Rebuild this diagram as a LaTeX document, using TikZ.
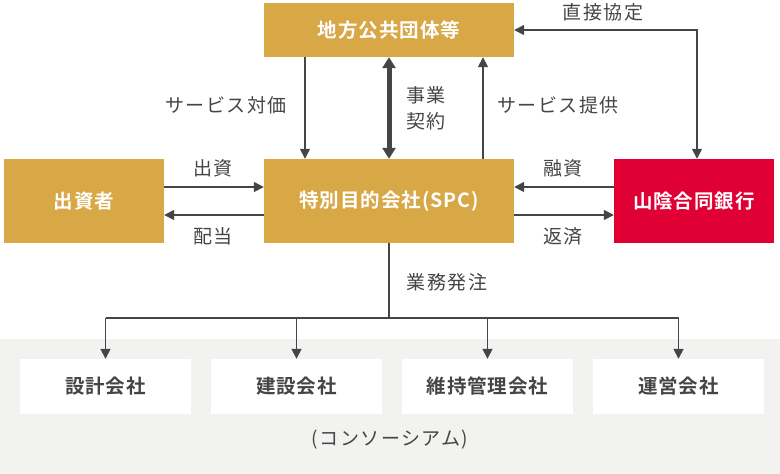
\documentclass[tikz,border=0pt]{standalone}
\usepackage{fontspec}
\setmainfont{Noto Sans CJK JP}[BoldFont={Noto Sans CJK JP Bold}]
\newfontfamily\labfont{Noto Sans CJK JP}[LetterSpace=8]
\newfontfamily\boxfont{Noto Sans CJK JP Bold}[LetterSpace=5]
\usetikzlibrary{arrows.meta}
\definecolor{gold}{HTML}{D8A746}
\definecolor{bankred}{HTML}{E00034}
\definecolor{linegray}{HTML}{454545}
\definecolor{bggray}{HTML}{F2F2F0}
\tikzset{
  box/.style={fill=gold, text=white, inner sep=0pt, font=\boxfont\fontsize{19.5}{20}\selectfont},
  subbox/.style={fill=white, text=linegray, inner sep=0pt, minimum width=171pt, minimum height=55pt, font=\boxfont\fontsize{19.5}{20}\selectfont},
  lab/.style={text=linegray, inner sep=0pt, font=\labfont\fontsize{19}{26}\selectfont},
  arr/.style={draw=linegray, line width=1.6pt, -{Triangle[width=10pt,length=10pt]}},
  plain/.style={draw=linegray, line width=1.6pt},
}
\begin{document}
\begin{tikzpicture}[x=1pt,y=-1pt]
    \useasboundingbox (0,0) rectangle (780,474);
    %Bakgrunn
        \fill[bggray] (0,339) rectangle (780,474);
    %Bokser
        \node[box, minimum width=250pt, minimum height=54pt] (pub) at (389,30) {地方公共団体等};
        \node[box, minimum width=250pt, minimum height=84pt] (spc) at (389,201) {特別目的会社(SPC)};
        \node[box, minimum width=160pt, minimum height=84pt] (inv) at (84,201) {出資者};
        \node[box, fill=bankred, minimum width=160pt, minimum height=84pt] (bank) at (694,201) {山陰合同銀行};
        %
        \node[subbox] (design) at (105.5,386.5) {設計会社};
        \node[subbox] (build) at (296.5,386.5) {建設会社};
        \node[subbox] (maint) at (487.5,386.5) {維持管理会社};
        \node[subbox] (oper) at (678.5,386.5) {運営会社};
    %Piler
        \draw[arr] ([yshift=14pt]inv.east) -- ([yshift=14pt]spc.west);
        \draw[arr] ([yshift=-14pt]spc.west) -- ([yshift=-14pt]inv.east);
        \draw[arr] ([yshift=14pt]bank.west) -- ([yshift=14pt]spc.east);
        \draw[arr] ([yshift=-14pt]spc.east) -- ([yshift=-14pt]bank.west);
        %
        \draw[arr] ([xshift=-84pt]pub.south) -- ([xshift=-84pt]spc.north);
        \draw[arr, line width=5pt, {Triangle[width=13pt,length=11pt]}-{Triangle[width=13pt,length=11pt]}] (pub.south) -- (spc.north);
        \draw[arr] ([xshift=94pt]spc.north) -- ([xshift=94pt]pub.south);
        \draw[arr, {Triangle[width=10pt,length=10pt]}-{Triangle[width=10pt,length=10pt]}] (pub.east) -| ([xshift=3pt]bank.north);
        %
        \coordinate (split) at (389,318);
        \draw[plain] (spc.south) -- (split);
        \draw[plain] (design.north |- split) -- (oper.north |- split);
        \draw[arr] (design.north |- split) -- (design.north);
        \draw[arr] (build.north |- split) -- (build.north);
        \draw[arr] (maint.north |- split) -- (maint.north);
        \draw[arr] (oper.north |- split) -- (oper.north);
    %Tekster
        \node[lab] (direct) at (603,12) {直接協定};
        \node[lab] (fee) at (226,105) {サービス対価};
        \node[lab, align=center] (contract) at (426,108) {事業\\契約};
        \node[lab] (service) at (558,105) {サービス提供};
        \node[lab] (invest) at (213,168) {出資};
        \node[lab] (divid) at (213,236) {配当};
        \node[lab] (loan) at (563,168) {融資};
        \node[lab] (repay) at (563,236) {返済};
        \node[lab] (order) at (447,282) {業務発注};
        \node[lab] (consort) at (390,440) {(コンソーシアム)};
\end{tikzpicture}
\end{document}
